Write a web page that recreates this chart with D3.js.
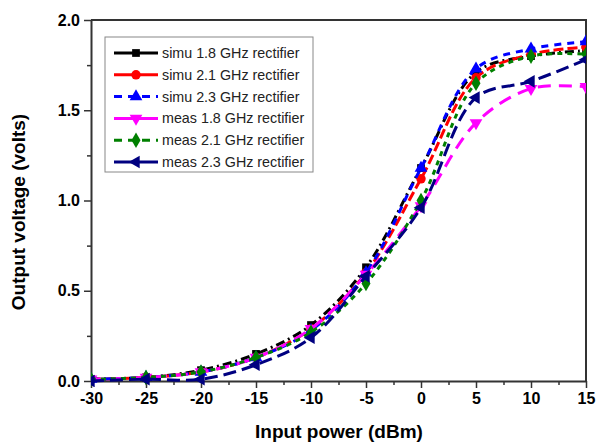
<!DOCTYPE html>
<html>
<head>
<meta charset="utf-8">
<script src="https://cdn.jsdelivr.net/npm/d3@7"></script>
<style>
body { margin: 0; background: #fff; }
svg { font-family: Arial, "Liberation Sans", sans-serif; }
.tick text { font-weight: bold; font-size: 16px; fill: #000; }
.lbl { font-weight: bold; font-size: 19px; }
</style>
</head>
<body>
<svg id="chart" width="599" height="445"></svg>
<script>
// input power (dBm)
var power = [-30, -25, -20, -15, -10, -5, 0, 5, 10, 15];

// output voltage (volts)
var simu18 = [0.01, 0.02, 0.06, 0.15, 0.31, 0.63, 1.18, 1.71, 1.80, 1.83];
var simu21 = [0.01, 0.02, 0.05, 0.13, 0.29, 0.60, 1.12, 1.68, 1.81, 1.85];
var simu23 = [0.01, 0.02, 0.05, 0.13, 0.28, 0.60, 1.18, 1.73, 1.84, 1.88];
var meas18 = [0.01, 0.02, 0.05, 0.13, 0.29, 0.59, 0.97, 1.43, 1.62, 1.63];
var meas21 = [0.01, 0.02, 0.05, 0.13, 0.27, 0.54, 1.00, 1.65, 1.80, 1.81];
var meas23 = [0.00, 0.01, 0.01, 0.09, 0.24, 0.58, 0.96, 1.57, 1.66, 1.78];

var names = ["simu 1.8 GHz rectifier", "simu 2.1 GHz rectifier", "simu 2.3 GHz rectifier",
             "meas 1.8 GHz rectifier", "meas 2.1 GHz rectifier", "meas 2.3 GHz rectifier"];
var values = [simu18, simu21, simu23, meas18, meas21, meas23];

var xTicks = [-30, -25, -20, -15, -10, -5, 0, 5, 10, 15];
var yTicks = [0, 0.5, 1.0, 1.5, 2.0];

var colors = ["#000000", "#ff0000", "#0000ff", "#ff00ff", "#008000", "#000080"];
var dashes = ["9,4,2,4", "10,4", "7,6", "13,8", "5,5", "13,6"];
var shapes = [d3.symbolSquare, d3.symbolCircle, d3.symbolTriangle, d3.symbolTriangle, d3.symbolDiamond, d3.symbolTriangle];
var rotate = [0, 0, 0, 180, 0, -90];
var sizes = [60, 70, 70, 70, 70, 70];

var pLeft = 91, pRight = 586, pTop = 20, pBottom = 381;
var svg = d3.select("#chart");

var x = d3.scaleLinear().domain([-30, 15]).range([pLeft, pRight]);
var y = d3.scaleLinear().domain([0, 2]).range([pBottom, pTop]);

// minor ticks
svg.append("g")
    .attr("transform", "translate(0," + pBottom + ")")
    .call(d3.axisBottom(x).tickValues(d3.range(-27.5, 15, 5)).tickSize(4).tickFormat(""))
    .call(function(g){ g.select(".domain").remove(); g.selectAll("line").attr("stroke", "#333").attr("stroke-width", 1.5); });
svg.append("g")
    .attr("transform", "translate(" + pLeft + ",0)")
    .call(d3.axisLeft(y).tickValues([0.25, 0.75, 1.25, 1.75]).tickSize(4).tickFormat(""))
    .call(function(g){ g.select(".domain").remove(); g.selectAll("line").attr("stroke", "#333").attr("stroke-width", 1.5); });

var xAxis = svg.append("g")
    .attr("transform", "translate(0," + pBottom + ")")
    .call(d3.axisBottom(x).tickValues(xTicks).tickSize(7).tickPadding(5).tickSizeOuter(0)
        .tickFormat(function(d){ return String(d); }));
var yAxis = svg.append("g")
    .attr("transform", "translate(" + pLeft + ",0)")
    .call(d3.axisLeft(y).tickValues(yTicks).tickSize(7).tickPadding(4).tickSizeOuter(0)
        .tickFormat(function(d){ return d.toFixed(1); }));
[xAxis, yAxis].forEach(function(g){
    g.selectAll("line").attr("stroke", "#333").attr("stroke-width", 1.5);
    g.select(".domain").attr("stroke", "#333").attr("stroke-width", 2);
});

// frame top / right
svg.append("path")
    .attr("d", "M" + pLeft + "," + pTop + "H" + pRight + "V" + pBottom)
    .attr("fill", "none").attr("stroke", "#333").attr("stroke-width", 2);

svg.append("clipPath").attr("id", "clip")
    .append("rect").attr("x", pLeft).attr("y", pTop - 6).attr("width", pRight - pLeft).attr("height", pBottom - pTop + 12);

var line = d3.line().curve(d3.curveCatmullRom.alpha(0.5))
    .x(function(d){ return x(d[0]); })
    .y(function(d){ return y(d[1]); });

var plot = svg.append("g").attr("clip-path", "url(#clip)");
values.forEach(function(v, i){
    var pts = power.map(function(p, j){ return [p, v[j]]; });
    plot.append("path")
        .attr("d", line(pts))
        .attr("fill", "none")
        .attr("stroke", colors[i])
        .attr("stroke-width", 3)
        .attr("stroke-dasharray", dashes[i]);
    plot.selectAll(null).data(pts).enter().append("path")
        .attr("d", d3.symbol().type(shapes[i]).size(sizes[i]))
        .attr("transform", function(d){ return "translate(" + x(d[0]) + "," + y(d[1]) + ") rotate(" + rotate[i] + ")"; })
        .attr("fill", colors[i]);
});

// legend
var lg = svg.append("g");
lg.append("rect").attr("x", 105).attr("y", 37).attr("width", 208).attr("height", 135)
    .attr("fill", "#fff").attr("stroke", "#888").attr("stroke-width", 1);
names.forEach(function(n, i){
    var yy = 53 + i * 21.8;
    var dash = (i == 2 || i == 4) ? "8,6" : null;
    lg.append("line").attr("x1", 114).attr("x2", 158).attr("y1", yy).attr("y2", yy)
        .attr("stroke", colors[i]).attr("stroke-width", 3).attr("stroke-dasharray", dash);
    lg.append("path")
        .attr("d", d3.symbol().type(shapes[i]).size(sizes[i]))
        .attr("transform", "translate(136," + yy + ") rotate(" + rotate[i] + ")")
        .attr("fill", colors[i]);
    lg.append("text").attr("x", 162).attr("y", yy + 5).attr("font-size", 14.3).attr("fill", "#222").text(n);
});

svg.append("text").attr("class", "lbl").attr("text-anchor", "middle")
    .attr("x", 339).attr("y", 438).text("Input power (dBm)");
svg.append("text").attr("class", "lbl").attr("text-anchor", "middle")
    .attr("transform", "translate(25,212) rotate(-90)").text("Output voltage (volts)");
</script>
</body>
</html>
